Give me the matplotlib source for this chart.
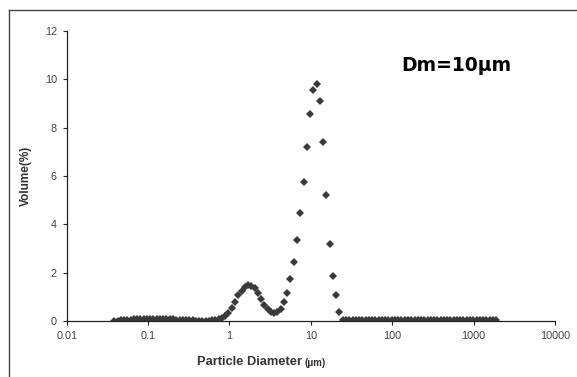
import numpy as np
import matplotlib
matplotlib.use("Agg")
import matplotlib.pyplot as plt
from matplotlib.lines import Line2D

# Instrument size bins (geometric grid, ~25 bins per decade), in micrometres
bin_start_log = -1.416
bin_step_log = 0.0401
n_bins = 118
size_um = 10 ** (bin_start_log + bin_step_log * np.arange(n_bins))

# Volume (%) read for each bin
volume_pct = [
    # 0.04 - 0.6 um (k=0..30)
    0.01, 0.02, 0.03, 0.04, 0.05, 0.06, 0.07, 0.08, 0.09, 0.10,
    0.10, 0.10, 0.10, 0.10, 0.09, 0.09, 0.08, 0.08, 0.07, 0.06,
    0.05, 0.04, 0.04, 0.03, 0.03, 0.02, 0.02, 0.02, 0.02, 0.02,
    0.03,
    # small mode (k=31..51)
    0.04, 0.08, 0.14, 0.22, 0.32, 0.52, 0.80, 1.07, 1.25, 1.40,
    1.47, 1.45, 1.35, 1.15, 0.90, 0.66, 0.48, 0.38, 0.33, 0.38,
    0.50,
    # main mode (k=52..69)
    0.79, 1.17, 1.72, 2.44, 3.35, 4.45, 5.76, 7.20, 8.58, 9.55,
    9.82, 9.09, 7.41, 5.22, 3.20, 1.88, 1.09, 0.37,
    # coarse tail (k=70..117)
    0.04, 0.03, 0.03, 0.03, 0.03, 0.03, 0.03, 0.03, 0.03, 0.03,
    0.03, 0.03, 0.03, 0.03, 0.03, 0.03, 0.03, 0.03, 0.03, 0.03,
    0.03, 0.03, 0.03, 0.03, 0.03, 0.03, 0.03, 0.03, 0.03, 0.03,
    0.03, 0.03, 0.03, 0.03, 0.03, 0.03, 0.03, 0.03, 0.03, 0.03,
    0.03, 0.03, 0.03, 0.03, 0.03, 0.03, 0.03, 0.03,
]

x_ticks = [0.01, 0.1, 1, 10, 100, 1000, 10000]
x_tick_labels = ["0.01", "0.1", "1", "10", "100", "1000", "10000"]
y_ticks = [0, 2, 4, 6, 8, 10, 12]

plt.rcParams['font.family'] = ['Liberation Sans', 'DejaVu Sans']

fig = plt.figure(figsize=(5.77, 3.77), dpi=100)
ax = fig.add_axes([0.1156, 0.1485, 0.8464, 0.7692])

ax.plot(size_um, volume_pct, linestyle='none', marker='D', markersize=3.8,
        color='#3a3a3a', markeredgewidth=0)

ax.set_xscale('log')
ax.set_xlim(0.01, 10000)
ax.set_ylim(0, 12)
ax.set_xticks(x_ticks)
ax.set_xticklabels(x_tick_labels)
ax.xaxis.set_minor_locator(matplotlib.ticker.NullLocator())
ax.set_yticks(y_ticks)

for s in ['top', 'right']:
    ax.spines[s].set_visible(False)
for s in ['left', 'bottom']:
    ax.spines[s].set_color('#222222')
    ax.spines[s].set_linewidth(0.9)

ax.tick_params(axis='both', direction='out', length=3, width=0.8,
               colors='#222222', labelsize=7.8, labelcolor='#444444', pad=4)

ax.set_ylabel('Volume(%)', fontsize=8.5, fontweight='bold', color='#333333',
              labelpad=9)
ax.set_xlabel('')
fig.text(0.523, 0.04, 'Particle Diameter', fontsize=9.3, fontweight='bold',
         color='#333333', ha='right', va='center')
fig.text(0.527, 0.037, '(μm)', fontsize=7, fontweight='bold',
         color='#333333', ha='left', va='center')

ax.text(0.685, 0.88, 'Dm=10μm', transform=ax.transAxes, fontsize=13.5,
        fontweight='bold', family=['DejaVu Sans'], color='black',
        ha='left', va='center')

# outer frame (left and top edges visible)
fx = 9 / 577
fy = 1 - 10 / 377
fig.add_artist(Line2D([fx, fx], [0, fy], transform=fig.transFigure,
                      color='#444444', lw=1))
fig.add_artist(Line2D([fx, 1], [fy, fy], transform=fig.transFigure,
                      color='#444444', lw=1))

fig.savefig('out.png', dpi=100)
